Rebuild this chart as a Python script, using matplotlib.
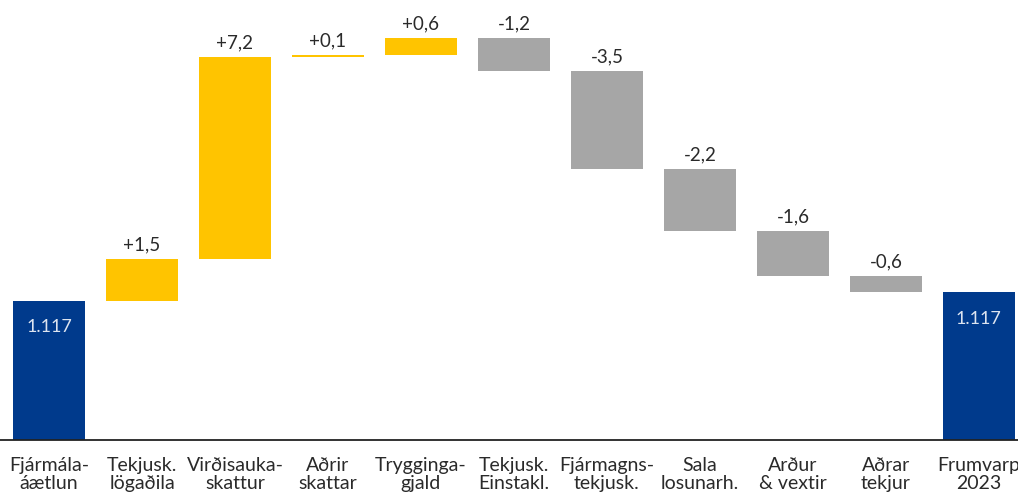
import numpy as np
import matplotlib
matplotlib.use("Agg")
import matplotlib.pyplot as plt

plt.rcParams['font.family'] = ['Lato', 'DejaVu Sans']

labels = ["Fjármála-\náætlun", "Tekjusk.\nlögaðila", "Virðisauka-\nskattur", "Aðrir\nskattar",
          "Trygginga-\ngjald", "Tekjusk.\nEinstakl.", "Fjármagns-\ntekjusk.", "Sala\nlosunarh.",
          "Arður\n& vextir", "Aðrar\ntekjur", "Frumvarp\n2023"]
start = 1117.0
changes = [1.5, 7.2, 0.1, 0.6, -1.2, -3.5, -2.2, -1.6, -0.6]
total_label = "1.117"

navy = "#003a8c"
yellow = "#ffc400"
grey = "#a6a6a6"

fig = plt.figure(figsize=(10.18, 4.94), dpi=100)
ax = fig.add_axes([0, 54/494, 1, 440/494])

ymin = 1112.03
ymax = 1127.75
width = 0.774

# waterfall: running level before each step
levels = start + np.concatenate([[0], np.cumsum(changes)])
end = levels[-1]

x = np.arange(len(labels))
ax.bar(x[0], start - ymin, bottom=ymin, width=width, color=navy)
ax.bar(x[-1], end - ymin, bottom=ymin, width=width, color=navy)
for i, c in enumerate(changes):
    lo = min(levels[i], levels[i + 1])
    col = yellow if c > 0 else grey
    ax.bar(x[i + 1], abs(c), bottom=lo, width=width, color=col)
    txt = ("+" if c > 0 else "-") + f"{abs(c):.1f}".replace(".", ",")
    ax.annotate(txt, (x[i + 1], max(levels[i], levels[i + 1])), xytext=(0, 4),
                textcoords="offset points", ha="center", va="bottom",
                fontsize=13.5, color="#2a2a2a")

for xi, v in [(x[0], start), (x[-1], end)]:
    ax.annotate(total_label, (xi, v), xytext=(0, -19), textcoords="offset points",
                ha="center", va="center", fontsize=13, color="#dde4f0")

ax.set_xlim(-0.527, 10.42)
ax.set_ylim(ymin, ymax)
ax.set_xticks(x)
ax.set_xticklabels(labels, fontsize=14, color="#2a2a2a", linespacing=1.12)
ax.tick_params(axis="x", length=0, pad=12)
ax.set_yticks([])
for s in ["top", "left", "right"]:
    ax.spines[s].set_visible(False)
ax.spines["bottom"].set_linewidth(1.3)
ax.spines["bottom"].set_color("#222222")

fig.savefig("out.png", dpi=100)
